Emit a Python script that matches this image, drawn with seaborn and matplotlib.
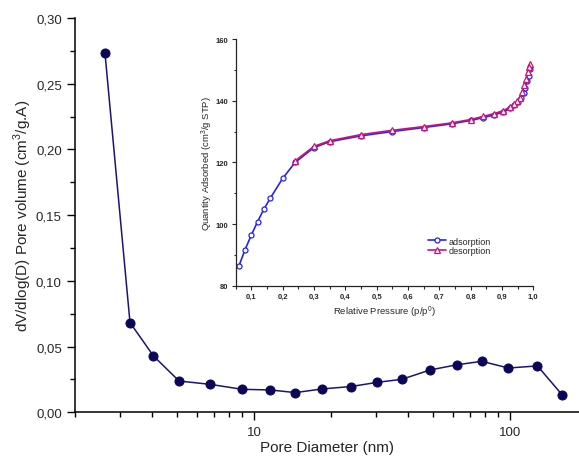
import matplotlib
matplotlib.use("Agg")
import matplotlib.pyplot as plt
import matplotlib.ticker as mticker
import seaborn as sns
import pandas as pd

# ---- main chart data: pore size distribution ----
pore_diameter = [2.62, 3.28, 4.05, 5.1, 6.73, 9.0, 11.6, 14.5, 18.5, 23.9,
                 30.3, 37.8, 48.7, 62.2, 77.6, 98.6, 128.0, 160.0]
pore_volume = [0.273, 0.0683, 0.0429, 0.0238, 0.0213, 0.0175, 0.0170, 0.0150,
               0.0178, 0.0196, 0.0228, 0.0251, 0.0322, 0.0362, 0.0388, 0.0337,
               0.0353, 0.0132]

# ---- inset data: N2 isotherm ----
ads_p = [0.06, 0.08, 0.10, 0.12, 0.14, 0.16, 0.20, 0.24, 0.30, 0.35, 0.45,
         0.55, 0.65, 0.74, 0.80, 0.84, 0.875, 0.905, 0.925, 0.94, 0.95, 0.96,
         0.97, 0.975, 0.98, 0.985, 0.99]
ads_q = [86.3, 91.7, 96.4, 100.8, 104.8, 108.3, 114.8, 120.0, 124.8, 126.7,
         128.6, 130.0, 131.3, 132.5, 133.6, 134.5, 135.4, 136.4, 137.5, 138.6,
         139.6, 141.0, 142.5, 144.1, 146.3, 148.1, 150.3]
des_p = [0.99, 0.985, 0.982, 0.977, 0.972, 0.965, 0.957, 0.947, 0.94, 0.925,
         0.905, 0.875, 0.84, 0.80, 0.74, 0.65, 0.55, 0.45, 0.35, 0.30, 0.24]
des_q = [152.0, 150.8, 149.2, 147.0, 145.0, 142.9, 141.0, 139.8, 139.0, 137.9,
         136.8, 135.8, 134.9, 133.9, 132.8, 131.6, 130.4, 129.0, 127.0, 125.2,
         120.5]

main_yticks = [0.00, 0.05, 0.10, 0.15, 0.20, 0.25, 0.30]
main_yticklabels = ["0,00", "0,05", "0,10", "0,15", "0,20", "0,25", "0,30"]

sns.set_style("ticks")
plt.rcParams["font.family"] = ["Liberation Sans", "DejaVu Sans"]
plt.rcParams["mathtext.fontset"] = "custom"
plt.rcParams["mathtext.rm"] = "Liberation Sans"

fig = plt.figure(figsize=(5.79, 4.60), dpi=100)

# ---------------- main axes ----------------
ax = fig.add_axes([0.1295, 0.1015, 0.8705, 0.8572])
df_main = pd.DataFrame({"d": pore_diameter, "v": pore_volume})
navy = "#1a137a"
sns.lineplot(data=df_main, x="d", y="v", ax=ax, color=navy, lw=1.1,
             marker="o", markersize=6.5, markerfacecolor="#0c0659",
             markeredgecolor="#0c0659", sort=False)
ax.set_xscale("log")
ax.set_xlim(2.0, 186)
ax.set_ylim(0.0, 0.30)
ax.set_yticks(main_yticks)
ax.set_yticklabels(main_yticklabels)
ax.yaxis.set_minor_locator(mticker.MultipleLocator(0.025))
ax.xaxis.set_major_locator(mticker.FixedLocator([10, 100]))
ax.xaxis.set_major_formatter(mticker.FixedFormatter(["10", "100"]))
ax.xaxis.set_minor_locator(mticker.LogLocator(base=10, subs=range(2, 10)))
ax.xaxis.set_minor_formatter(mticker.NullFormatter())
ax.tick_params(axis="both", which="major", direction="out", length=6,
               width=1.0, labelsize=9.5, color="black")
ax.tick_params(axis="both", which="minor", direction="out", length=3.5,
               width=1.0, color="black")
for s in ["top", "right"]:
    ax.spines[s].set_visible(False)
for s in ["left", "bottom"]:
    ax.spines[s].set_linewidth(1.1)
    ax.spines[s].set_color("black")
ax.set_xlabel("Pore Diameter (nm)", fontsize=11, labelpad=2)
ax.set_ylabel("dV/dlog(D) Pore volume (cm$^3$/g.A)", fontsize=11, labelpad=1.5)

# ---------------- inset axes ----------------
ins = fig.add_axes([0.407, 0.3767, 0.514, 0.5363])
df_ads = pd.DataFrame({"p": ads_p, "q": ads_q})
df_des = pd.DataFrame({"p": des_p, "q": des_q})
blue = "#2222ff"
mag = "#cc1177"
sns.lineplot(data=df_ads, x="p", y="q", ax=ins, color=blue, lw=1.2,
             marker="o", markersize=3.6, markerfacecolor="white",
             markeredgecolor=blue, markeredgewidth=0.9, sort=False,
             label="adsorption")
sns.lineplot(data=df_des, x="p", y="q", ax=ins, color=mag, lw=1.2,
             marker="^", markersize=4.2, markerfacecolor="white",
             markeredgecolor=mag, markeredgewidth=0.9, sort=False,
             label="desorption")
ins.patch.set_alpha(0)
ins.set_xlim(0.05, 1.0)
ins.set_ylim(80, 160)
ins.xaxis.set_major_locator(mticker.FixedLocator([0.1, 0.2, 0.3, 0.4, 0.5,
                                                  0.6, 0.7, 0.8, 0.9, 1.0]))
ins.xaxis.set_major_formatter(mticker.FixedFormatter(
    ["0,1", "0,2", "0,3", "0,4", "0,5", "0,6", "0,7", "0,8", "0,9", "1,0"]))
ins.xaxis.set_minor_locator(mticker.FixedLocator([0.05, 0.15, 0.25, 0.35, 0.45,
                                                  0.55, 0.65, 0.75, 0.85, 0.95]))
ins.yaxis.set_major_locator(mticker.MultipleLocator(20))
ins.yaxis.set_minor_locator(mticker.MultipleLocator(10))
ins.tick_params(axis="both", which="major", direction="out", length=3,
                width=0.8, labelsize=5.5, pad=2)
ins.tick_params(axis="both", which="minor", direction="out", length=1.8,
                width=0.8)
for t in ins.get_xticklabels() + ins.get_yticklabels():
    t.set_fontweight("bold")
for s in ["top", "right"]:
    ins.spines[s].set_visible(False)
for s in ["left", "bottom"]:
    ins.spines[s].set_linewidth(0.9)
ins.set_xlabel("Relative Pressure (p/p$^0$)", fontsize=6.8, labelpad=3)
ins.set_ylabel("Quantity Adsorbed (cm$^3$/g STP)", fontsize=6.8, labelpad=0.5)
leg = ins.legend(loc="upper left", bbox_to_anchor=(0.625, 0.225), frameon=False,
                 fontsize=6.5, handlelength=2.0, handletextpad=0.3,
                 labelspacing=0.1, borderpad=0.2)

fig.savefig("out.png", dpi=100)
